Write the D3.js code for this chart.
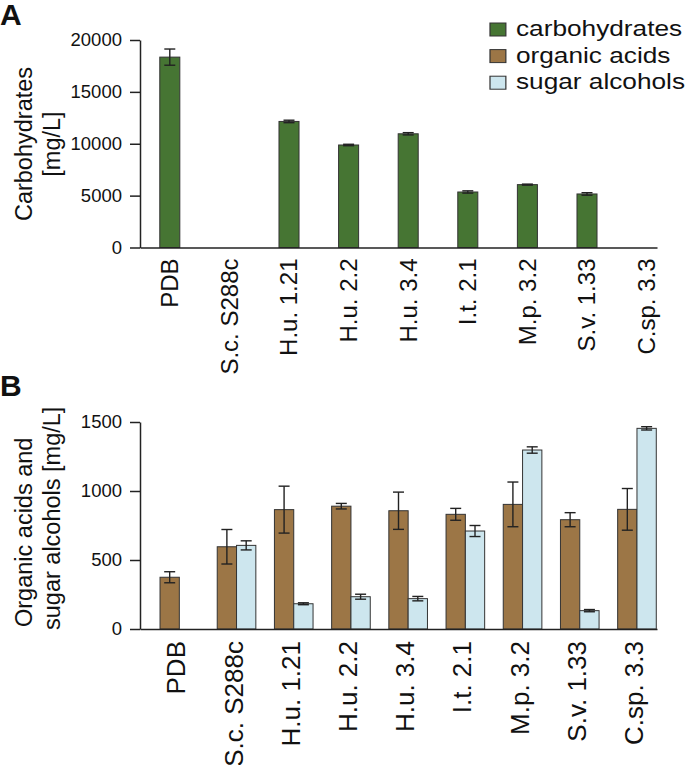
<!DOCTYPE html>
<html>
<head>
<meta charset="utf-8">
<script src="https://cdn.jsdelivr.net/npm/d3@7"></script>
<style>
  html, body { margin: 0; padding: 0; background: #fff; }
  svg { display: block; font-family: "Liberation Sans", Arial, Helvetica, sans-serif; }
</style>
</head>
<body>
<svg id="chart" width="685" height="765"></svg>
<script>
// ---- data ----
const categories = ["PDB", "S.c. S288c", "H.u. 1.21", "H.u. 2.2", "H.u. 3.4", "I.t. 2.1", "M.p. 3.2", "S.v. 1.33", "C.sp. 3.3"];
const carbohydrates = [18350, 0, 12150, 9880, 10960, 5350, 6060, 5160, 0];
const carbohydratesErr = [780, 0, 120, 70, 110, 110, 50, 120, 0];
const organicAcids = [375, 596, 865, 890, 857, 831, 903, 792, 867];
const organicAcidsErr = [40, 125, 170, 20, 135, 43, 162, 51, 151];
const sugarAlcohols = [0, 606, 183, 234, 220, 710, 1297, 133, 1454];
const sugarAlcoholsErr = [0, 33, 7, 18, 16, 40, 23, 8, 12];
const ticksA = [0, 5000, 10000, 15000, 20000];
const ticksB = [0, 500, 1000, 1500];
const seriesNames = ["carbohydrates", "organic acids", "sugar alcohols"];
const seriesColors = ["#467533", "#9c7646", "#cde6ee"];

const svg = d3.select("#chart");
const axisColor = "#222";
const barStroke = "#333";

function styleAxis(g) {
  g.selectAll("path.domain").attr("stroke", axisColor).attr("stroke-width", 1.5);
  g.selectAll(".tick line").attr("stroke", axisColor).attr("stroke-width", 1.5);
  g.selectAll(".tick text").attr("fill", "#111");
}

function errorBar(g, cx, yTop, yBot, capW) {
  g.append("line").attr("x1", cx).attr("x2", cx).attr("y1", yTop).attr("y2", yBot)
    .attr("stroke", "#222").attr("stroke-width", 1.4);
  [yTop, yBot].forEach(yy => g.append("line")
    .attr("x1", cx - capW / 2).attr("x2", cx + capW / 2).attr("y1", yy).attr("y2", yy)
    .attr("stroke", "#222").attr("stroke-width", 1.4));
}

// ================= Panel A =================
const xA = d3.scaleBand().domain(categories).range([140, 676.4]).paddingInner(0.664).paddingOuter(0.332);
const yA = d3.scaleLinear().domain([0, 20000]).range([247.5, 40]);
const gA = svg.append("g");

gA.append("text").text("A").attr("x", 0).attr("y", 25)
  .attr("font-size", 30).attr("font-weight", "bold").attr("fill", "#111");

const axA = gA.append("g").attr("transform", "translate(140,0)")
  .call(d3.axisLeft(yA).tickValues(ticksA).tickSize(10).tickSizeOuter(0).tickPadding(8).tickFormat(d3.format("d")));
axA.selectAll(".tick text").attr("font-size", 18.5).attr("font-family", "Liberation Sans, Arial, sans-serif");
styleAxis(axA);

carbohydrates.forEach((v, i) => {
  if (v <= 0) return;
  const x0 = xA(categories[i]);
  gA.append("rect").attr("x", x0).attr("y", yA(v)).attr("width", xA.bandwidth()).attr("height", yA(0) - yA(v))
    .attr("fill", seriesColors[0]).attr("stroke", barStroke).attr("stroke-width", 1);
  errorBar(gA, x0 + xA.bandwidth() / 2, yA(v + carbohydratesErr[i]), yA(v - carbohydratesErr[i]), 11);
});

const xLineA = gA.append("g").attr("transform", `translate(0,${yA(0)})`)
  .call(d3.axisBottom(d3.scaleLinear().range([140, 657])).tickValues([]).tickSizeOuter(0));
styleAxis(xLineA);

const labA = gA.append("g").attr("transform", `translate(0,${yA(0)})`)
  .call(d3.axisBottom(xA).tickSize(0));
labA.select("path.domain").remove();
labA.selectAll(".tick text")
  .attr("transform", "rotate(-90)").attr("text-anchor", "end")
  .attr("x", -11).attr("y", 0).attr("dy", "0.35em")
  .attr("font-size", 24).attr("font-family", "Liberation Sans, Arial, sans-serif").attr("fill", "#111");

gA.append("text").attr("transform", "translate(31.5,144) rotate(-90)").attr("text-anchor", "middle")
  .attr("font-size", 23.5).attr("fill", "#111").text("Carbohydrates");
gA.append("text").attr("transform", "translate(59.5,144) rotate(-90)").attr("text-anchor", "middle")
  .attr("font-size", 23.5).attr("fill", "#111").text("[mg/L]");

// legend
const leg = svg.append("g").attr("transform", "translate(490,0) scale(1.22,1)");
seriesNames.forEach((name, i) => {
  const base = 36 + i * 26.6;
  leg.append("rect").attr("x", 0).attr("y", base - 13).attr("width", 13).attr("height", 13)
    .attr("fill", seriesColors[i]).attr("stroke", barStroke).attr("stroke-width", 1);
  leg.append("text").attr("x", 21.3).attr("y", base).attr("font-size", 21.5).attr("fill", "#111").text(name);
});

// ================= Panel B =================
const xB = d3.scaleBand().domain(categories).range([140, 676.3]).paddingInner(0.325).paddingOuter(0.35);
const xSub = d3.scaleBand().domain(["organic acids", "sugar alcohols"]).range([0, xB.bandwidth()]);
const yB = d3.scaleLinear().domain([0, 1500]).range([629, 422]);
const gB = svg.append("g");

gB.append("text").text("B").attr("x", 0).attr("y", 396)
  .attr("font-size", 30).attr("font-weight", "bold").attr("fill", "#111");

const axB = gB.append("g").attr("transform", "translate(140,0)")
  .call(d3.axisLeft(yB).tickValues(ticksB).tickSize(10).tickSizeOuter(0).tickPadding(8).tickFormat(d3.format("d")));
axB.selectAll(".tick text").attr("font-size", 18.5).attr("font-family", "Liberation Sans, Arial, sans-serif");
styleAxis(axB);

const seriesB = [
  { name: "organic acids", vals: organicAcids, errs: organicAcidsErr, color: seriesColors[1] },
  { name: "sugar alcohols", vals: sugarAlcohols, errs: sugarAlcoholsErr, color: seriesColors[2] }
];
seriesB.forEach(s => {
  s.vals.forEach((v, i) => {
    if (v <= 0) return;
    const x0 = xB(categories[i]) + xSub(s.name);
    gB.append("rect").attr("x", x0).attr("y", yB(v)).attr("width", xSub.bandwidth()).attr("height", yB(0) - yB(v))
      .attr("fill", s.color).attr("stroke", barStroke).attr("stroke-width", 1);
  });
});
seriesB.forEach(s => {
  s.vals.forEach((v, i) => {
    if (v <= 0) return;
    const cx = xB(categories[i]) + xSub(s.name) + xSub.bandwidth() / 2;
    errorBar(gB, cx, yB(v + s.errs[i]), yB(v - s.errs[i]), 11);
  });
});

const xLineB = gB.append("g").attr("transform", `translate(0,${yB(0)})`)
  .call(d3.axisBottom(d3.scaleLinear().range([140, 657])).tickValues([]).tickSizeOuter(0));
styleAxis(xLineB);

const labB = gB.append("g").attr("transform", `translate(-3,${yB(0)})`)
  .call(d3.axisBottom(xB).tickSize(0));
labB.select("path.domain").remove();
labB.selectAll(".tick text")
  .attr("transform", "rotate(-90)").attr("text-anchor", "end")
  .attr("x", -12).attr("y", 0).attr("dy", "0.35em")
  .attr("font-size", 26).attr("font-family", "Liberation Sans, Arial, sans-serif").attr("fill", "#111");

gB.append("text").attr("transform", "translate(32,627) rotate(-90)").attr("text-anchor", "start")
  .attr("font-size", 23.5).attr("fill", "#111").text("Organic acids and");
gB.append("text").attr("transform", "translate(60,630) rotate(-90)").attr("text-anchor", "start")
  .attr("font-size", 23.5).attr("fill", "#111").text("sugar alcohols [mg/L]");
</script>
</body>
</html>
